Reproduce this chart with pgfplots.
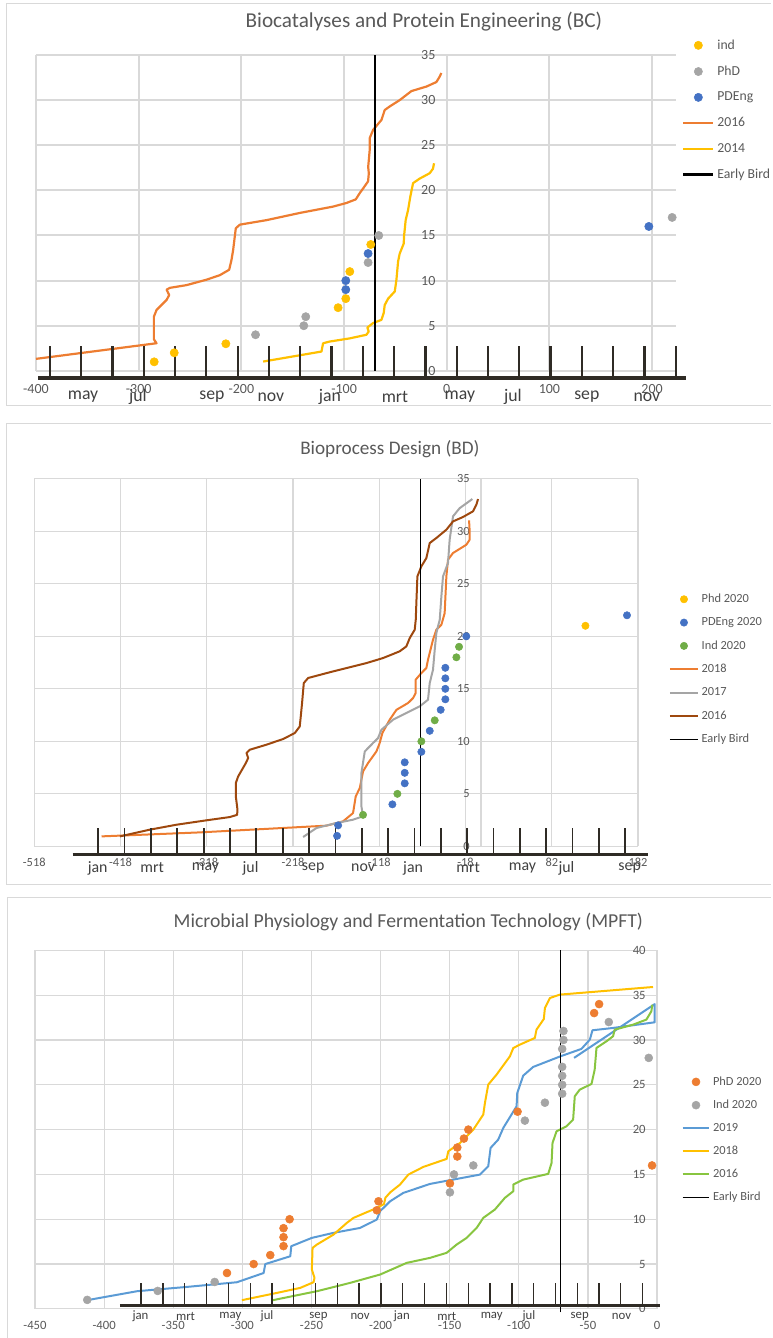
\documentclass[border=0pt]{standalone}
\usepackage{pgfplots}
\pgfplotsset{compat=1.18}
\usepackage{fontspec}
\setmainfont{Carlito}
\definecolor{gridc}{HTML}{D9D9D9}
\definecolor{labc}{HTML}{595959}
\definecolor{monc}{HTML}{404040}
\definecolor{rulc}{HTML}{2F2B25}
\definecolor{cor}{HTML}{ED7D31}
\definecolor{cye}{HTML}{FFC000}
\definecolor{cgr}{HTML}{A5A5A5}
\definecolor{cbl}{HTML}{4472C4}
\definecolor{clb}{HTML}{5B9BD5}
\definecolor{cgn}{HTML}{70AD47}
\definecolor{cbr}{HTML}{9E480E}
\definecolor{clg}{HTML}{88C540}
\pgfplotsset{
  common/.style={
    scale only axis, anchor=south west, clip=false,
    axis lines=center,
    every inner x axis line/.append style={-},
    every inner y axis line/.append style={-},
    axis line style={-},
    grid=major, major tick length=0pt,
    hide obscured x ticks=false, hide obscured y ticks=false,
    /pgf/number format/assume math mode=true,
    tick label style={text=labc},
    legend cell align=left,
  },
  dot/.style={only marks, mark=*, color=#1, mark options={fill=#1, draw=#1}},
}
\begin{document}
\begin{tikzpicture}
\path (0,0) rectangle (578.25pt,-1003.5pt);
% frames
\draw[gridc, line width=0.75pt] (578.25pt,-3pt) -- (5.25pt,-3pt) -- (5.25pt,-304.5pt) -- (578.25pt,-304.5pt);
\draw[gridc, line width=0.75pt] (578.25pt,-318pt) -- (5.25pt,-318pt) -- (5.25pt,-663.75pt) -- (578.25pt,-663.75pt);
\draw[gridc, line width=0.75pt] (578.25pt,-673.5pt) -- (6pt,-673.5pt) -- (6pt,-1003.5pt);
% titles
\node[font=\fontsize{15.9}{19}\selectfont, text=labc] at (318pt,-16.5pt) {Biocatalyses and Protein Engineering (BC)};
\node[font=\fontsize{14.4}{17}\selectfont, text=labc] at (292.5pt,-336.75pt) {Bioprocess Design (BD)};
\node[font=\fontsize{14.8}{18}\selectfont, text=labc] at (306.4pt,-691.5pt) {Microbial Physiology and Fermentation Technology (MPFT)};

%================ PANEL 1 ================
\begin{axis}[common,
  at={(27pt,-278.25pt)}, width=480pt, height=237pt,
  xmin=-400, xmax=223, ymin=0, ymax=35,
  xtick={-400,-300,...,200}, ytick={0,5,...,35},
  grid style={draw=gridc, line width=1.5pt},
  axis line style={draw=gridc, line width=1.5pt},
  tick label style={font=\fontsize{10.5}{12}\selectfont},
  xticklabel style={yshift=-7pt}, yticklabel style={xshift=-5pt},
  legend image code/.code={\draw[mark repeat=2,mark phase=2,#1] plot coordinates {(0pt,0pt) (11.25pt,0pt) (22.5pt,0pt)};},
  legend style={draw=none, fill=none, at={(1.0094,1.058)}, anchor=north west,
    font=\fontsize{10.3}{12}\selectfont, text=labc, inner sep=0pt, row sep=7pt},
]
\addplot[dot=cye, mark size=3.1pt] coordinates {(-284.9,1) (-265.4,2) (-215.1,3) (-105.8,7) (-98.3,8) (-94.4,11) (-74,14)};
\addlegendentry{ind}
\addplot[dot=cgr, mark size=3.1pt] coordinates {(-186.2,4) (-139.2,5) (-137.3,6) (-76.6,12) (-66.2,15) (219.5,17)};
\addlegendentry{PhD}
\addplot[dot=cbl, mark size=3.1pt] coordinates {(-98.3,9) (-98.3,10) (-76.6,13) (196.8,16)};
\addlegendentry{PDEng}
\addplot[cor, line width=1.65pt, line join=round, no marks] coordinates {
(-400,1.33) (-282.6,3.06) (-285.2,3.5) (-285.2,6.0) (-282.6,6.75) (-272.8,7.86) (-270.3,8.4) (-272.8,9.0) (-269.5,9.2) (-253.4,9.5) (-234,10.1) (-221,10.6) (-211.9,11.2) (-209.6,12.3) (-208,13.4) (-206.4,14.9) (-205.4,15.8) (-201.5,16.2) (-175.5,16.7) (-143,17.5) (-110.7,18.2) (-97.7,18.6) (-88.6,19.0) (-84.7,19.7) (-81.5,20.2) (-76.6,21.0) (-75.9,21.9) (-76.5,22.6) (-75,24.5) (-75,25.8) (-71.7,26.7) (-63.6,27.8) (-60.4,28.9) (-55.5,29.3) (-45.8,30.0) (-34.4,31.0) (-19.8,31.5) (-10.1,32.0) (-6.9,32.6) (-5.3,33.0)};
\addlegendentry{2016}
\addplot[cye, line width=1.65pt, line join=round, no marks] coordinates {
(-178.8,1.03) (-149.6,1.6) (-122,2.14) (-120.4,3.06) (-113.9,3.25) (-94.4,3.6) (-78.2,4.0) (-76,4.36) (-77.3,4.8) (-71.7,5.3) (-63.6,5.65) (-61.4,6.4) (-60.4,7.3) (-57.1,8.0) (-50.6,8.8) (-49,10.1) (-47.4,12.1) (-45.8,13.0) (-41.9,14.1) (-41.6,14.9) (-40,16.7) (-37.7,17.8) (-35.5,19.3) (-32.8,20.8) (-26.4,21.3) (-16.6,21.9) (-13.4,22.4) (-12.4,23.0)};
\addlegendentry{2014}
\addplot[black, line width=2pt, no marks] coordinates {(-70,0) (-70,35)};
\addlegendentry{Early Bird}
% month ruler
\draw[rulc, line width=3pt] (axis cs:-398,-0.78) -- (axis cs:232.8,-0.78);
\pgfplotsinvokeforeach{-386.4,-355.9,-325.5,-295.0,-264.5,-234.1,-203.6,-173.1,-142.6,-112.2,-81.7,-51.2,-20.8,9.7,40.2,70.7,101.1,131.6,162.1,192.5,223.0}{
  \draw[rulc, line width=1.7pt] (axis cs:#1,-0.78) -- (axis cs:#1,2.77);}
\begin{scope}[every node/.style={font=\fontsize{13.3}{15}\selectfont, text=monc}]
\node at (axis cs:-354.2,-2.9) {may};
\node at (axis cs:-300.7,-2.9) {jul};
\node at (axis cs:-228.7,-2.9) {sep};
\node at (axis cs:-171.2,-2.9) {nov};
\node at (axis cs:-113.8,-2.9) {jan};
\node at (axis cs:-50.5,-2.9) {mrt};
\node at (axis cs:12.8,-2.9) {may};
\node at (axis cs:64.4,-2.9) {jul};
\node at (axis cs:136.4,-2.9) {sep};
\node at (axis cs:194.8,-2.9) {nov};
\end{scope}
\end{axis}

%================ PANEL 2 ================
\begin{axis}[common,
  at={(25.7pt,-635pt)}, width=453pt, height=275.8pt,
  xmin=-518, xmax=182, ymin=0, ymax=35,
  xtick={-518,-418,...,182}, ytick={0,5,...,35},
  grid style={draw=gridc, line width=0.9pt},
  axis line style={draw=gridc, line width=0.9pt},
  tick label style={font=\fontsize{9.3}{11}\selectfont},
  xticklabel style={yshift=-5.5pt}, yticklabel style={xshift=-5pt},
  legend image code/.code={\draw[mark repeat=2,mark phase=2,#1] plot coordinates {(0pt,0pt) (10.5pt,0pt) (21pt,0pt)};},
  legend style={draw=none, fill=none, at={(1.0508,0.6946)}, anchor=north west,
    font=\fontsize{9.3}{11}\selectfont, text=labc, inner sep=0pt, row sep=5.75pt},
]
\addplot[dot=cye, mark size=2.75pt] coordinates {(121,21)};
\addlegendentry{Phd 2020}
\addplot[dot=cbl, mark size=2.75pt] coordinates {(-166.9,1) (-165.7,2) (-102.8,4) (-88.5,6) (-88.5,7) (-88.5,8) (-69.2,9) (-59.5,11) (-46.8,13) (-41.4,14) (-41.4,15) (-41.4,16) (-41.4,17) (-17.1,20) (169.2,22)};
\addlegendentry{PDEng 2020}
\addplot[dot=cgn, mark size=2.75pt] coordinates {(-136.8,3) (-97,5) (-69.2,10) (-53.7,12) (-28.6,18) (-25.5,19)};
\addlegendentry{Ind 2020}
\addplot[cor, line width=1.5pt, line join=round, no marks] coordinates {
(-440,0.95) (-326,1.33) (-229.5,1.75) (-179.3,1.97) (-160,2.38) (-148.4,3.17) (-145.3,4.76) (-140.6,5.55) (-136.8,7.14) (-131,7.93) (-121.3,9.04) (-117.5,9.84) (-114.4,10.79) (-105.9,12.06) (-98.1,13.0) (-84.6,13.65) (-78.8,14.12) (-75.8,14.6) (-75.8,15.87) (-69.2,16.5) (-63.4,16.98) (-61.5,17.77) (-55.7,19.68) (-51.8,20.63) (-46,21.1) (-42.2,22.2) (-40.2,25.7) (-38.3,27.3) (-32.5,27.93) (-17,28.72) (-13.2,29.2) (-13.2,30) (-13.9,31.04)};
\addlegendentry{2018}
\addplot[cgr, line width=1.5pt, line join=round, no marks] coordinates {
(-206.3,0.89) (-190.8,1.75) (-167.7,2.22) (-148.4,2.54) (-136.8,2.86) (-138.7,3.81) (-138.7,6.98) (-134.8,9.04) (-125.2,9.84) (-119.5,10.3) (-115.5,11.1) (-102,12.06) (-71.1,13.33) (-61.5,13.96) (-59.5,15.55) (-55.7,16.82) (-53.7,18.72) (-51.8,20.31) (-47.9,21.58) (-46,23.8) (-44.1,25.7) (-38.3,26.98) (-36.4,29.2) (-32.5,31.42) (-24.8,32.2) (-10.1,33.07)};
\addlegendentry{2017}
\addplot[cbr, line width=1.5pt, line join=round, no marks] coordinates {
(-418.7,0.95) (-384,1.59) (-353.1,2.06) (-318.3,2.48) (-291.3,2.79) (-282.8,3.0) (-282.4,3.5) (-284.3,4.76) (-284.3,6.03) (-281.6,6.66) (-272.7,7.93) (-270,8.41) (-271.9,8.89) (-268.1,9.2) (-248.8,9.68) (-229.5,10.22) (-215.9,10.79) (-210.2,11.42) (-209,12.38) (-207.5,13.65) (-205.5,15.55) (-200.5,16.03) (-171.5,16.66) (-132.9,17.45) (-113.6,17.93) (-94.3,18.57) (-86.6,19.04) (-82.7,19.83) (-76.9,20.63) (-75.7,21.58) (-75,23.17) (-73.8,25.7) (-69.2,26.66) (-63.4,27.45) (-59.5,28.88) (-51.8,29.36) (-40.2,30.15) (-32.5,30.94) (-20.9,31.36) (-9.3,31.9) (-5.4,32.53) (-3.5,33.07)};
\addlegendentry{2016}
\addplot[black, line width=0.75pt, no marks] coordinates {(-70,0) (-70,35)};
\addlegendentry{Early Bird}
\draw[rulc, line width=2.6pt] (axis cs:-473.5,-0.79) -- (axis cs:193.2,-0.79);
\pgfplotsinvokeforeach{-443.8,-413.3,-382.7,-352.2,-321.6,-291.1,-260.6,-230.0,-199.5,-168.9,-138.4,-107.9,-77.3,-46.8,-16.2,14.3,44.8,75.4,105.9,136.5,167.0}{
  \draw[rulc, line width=1.3pt] (axis cs:#1,-0.79) -- (axis cs:#1,1.78);}
\begin{scope}[every node/.style={font=\fontsize{11.9}{14}\selectfont, text=monc}]
\node at (axis cs:-444.5,-2.06) {jan};
\node at (axis cs:-381.3,-2.06) {mrt};
\node at (axis cs:-319.4,-2.06) {may};
\node at (axis cs:-267.2,-2.06) {jul};
\node at (axis cs:-194.7,-2.06) {sep};
\node at (axis cs:-136.7,-2.06) {nov};
\node at (axis cs:-78.8,-2.06) {jan};
\node at (axis cs:-15.0,-2.06) {mrt};
\node at (axis cs:48.0,-2.06) {may};
\node at (axis cs:99.0,-2.06) {jul};
\node at (axis cs:172.3,-2.06) {sep};
\end{scope}
\end{axis}

%================ PANEL 3 ================
\begin{axis}[common,
  at={(26.25pt,-982pt)}, width=466.7pt, height=269pt,
  xmin=-450, xmax=0, ymin=0, ymax=40,
  xtick={-450,-400,...,0}, ytick={0,5,...,40},
  grid style={draw=gridc, line width=0.9pt},
  axis line style={draw=gridc, line width=0.9pt},
  tick label style={font=\fontsize{9.5}{11}\selectfont},
  xticklabel style={yshift=-6pt}, yticklabel style={xshift=-5pt},
  legend image code/.code={\draw[mark repeat=2,mark phase=2,#1] plot coordinates {(0pt,0pt) (10pt,0pt) (20pt,0pt)};},
  legend style={draw=none, fill=none, at={(1.0392,0.656)}, anchor=north west,
    font=\fontsize{9.3}{11}\selectfont, text=labc, inner sep=0pt, row sep=5.5pt},
]
\addplot[dot=cor, mark size=3pt] coordinates {(-311.1,4) (-291.8,5) (-279.8,6) (-270.2,7) (-270.2,8) (-270.2,9) (-265.8,10) (-202.7,11) (-201.5,12) (-149.8,14) (-144.5,17) (-144.5,18) (-139.7,19) (-136.5,20) (-100.9,22) (-45.5,33) (-41.9,34) (-3.6,16)};
\addlegendentry{PhD 2020}
\addplot[dot=cgr, mark size=3pt] coordinates {(-412.2,1) (-361.2,2) (-320,3) (-149.8,13) (-146.9,15) (-132.9,16) (-95.6,21) (-81.1,23) (-68.6,24) (-68.6,25) (-68.6,26) (-68.6,27) (-68.6,29) (-67.7,30) (-67.7,31) (-34.9,32) (-6.0,28)};
\addlegendentry{Ind 2020}
\addplot[clb, line width=1.5pt, line join=round, no marks] coordinates {
(-412.2,0.97) (-376.1,1.97) (-340,2.45) (-303.9,2.97) (-284.6,4.0) (-283.4,5.0) (-265.3,5.87) (-264.6,6.99) (-249.7,7.92) (-234,8.48) (-214.8,9.03) (-202.7,9.96) (-200.3,10.9) (-193.1,12.0) (-183.5,12.94) (-164.2,13.94) (-128.1,14.98) (-122.1,15.91) (-120.4,17.96) (-114.9,18.88) (-111.2,20.19) (-101.6,22.6) (-101.1,24.09) (-96.8,26.02) (-89.6,26.99) (-69.8,28.18) (-54.7,29.0) (-48.6,30.04) (-46.7,31.08) (-31.8,31.34) (-1.7,31.97) (-1.7,34.0) (-60,28.0)};
\addlegendentry{2019}
\addplot[cye, line width=1.5pt, line join=round, no marks] coordinates {
(-300.3,0.97) (-275,1.78) (-258.1,2.34) (-248.5,2.97) (-247.8,3.46) (-249.7,4.39) (-249.2,6.8) (-246.1,7.17) (-234,8.29) (-224.4,9.59) (-219.6,10.15) (-202.7,11.26) (-197.5,11.7) (-196.5,12.4) (-193,13.0) (-185.9,13.87) (-179.9,14.98) (-169,15.84) (-152.2,16.73) (-151,17.58) (-142.5,18.51) (-132.9,20.0) (-125.7,21.67) (-124.5,22.97) (-122.1,25.02) (-116.1,26.13) (-106.4,28.18) (-104,29.1) (-99.2,29.48) (-88.4,30.22) (-87.2,31.15) (-81.9,32.34) (-81.1,33.57) (-77.5,34.68) (-70.3,35.06) (-2.9,35.91)};
\addlegendentry{2018}
\addplot[clg, line width=1.5pt, line join=round, no marks] coordinates {
(-277.9,0.97) (-246.1,1.97) (-222,2.9) (-200.3,3.83) (-181.1,5.13) (-164.2,5.69) (-152.2,6.25) (-145,7.17) (-137.7,7.92) (-130.5,9.03) (-125.7,10.15) (-117.3,11.08) (-110.1,12.38) (-104,13.12) (-104,13.87) (-96.8,14.42) (-78.7,15.06) (-76.3,16.28) (-75.6,18.51) (-72.7,19.81) (-65.5,20.37) (-60.7,21.12) (-59.5,23.72) (-55.9,24.46) (-47.4,25.09) (-45.1,26.69) (-43.8,29.11) (-36.6,29.85) (-31.8,30.41) (-30.6,31.15) (-17.3,31.71) (-7.7,32.27) (-4.1,33.2) (-3.4,33.94)};
\addlegendentry{2016}
\addplot[black, line width=1pt, no marks] coordinates {(-70,-0.4) (-70,40)};
\addlegendentry{Early Bird}
\draw[rulc, line width=2.2pt] (axis cs:-388.6,0.4) -- (axis cs:1.9,0.4);
\pgfplotsinvokeforeach{-373.2,-357.4,-341.6,-325.9,-310.1,-294.3,-278.6,-262.8,-247.0,-231.2,-215.5,-199.7,-183.9,-168.1,-152.3,-136.6,-120.8,-105.0,-89.2,-73.5,-57.7,-41.9,-26.2,-10.4}{
  \draw[rulc, line width=1pt] (axis cs:#1,0.4) -- (axis cs:#1,2.9);}
\begin{scope}[every node/.style={font=\fontsize{9.6}{11}\selectfont, text=monc}]
\node at (axis cs:-373.7,-0.83) {jan};
\node at (axis cs:-341.1,-0.83) {mrt};
\node at (axis cs:-308.6,-0.83) {may};
\node at (axis cs:-282.1,-0.83) {jul};
\node at (axis cs:-244.9,-0.83) {sep};
\node at (axis cs:-214.8,-0.83) {nov};
\node at (axis cs:-184.6,-0.83) {jan};
\node at (axis cs:-152.1,-0.83) {mrt};
\node at (axis cs:-119.6,-0.83) {may};
\node at (axis cs:-92.7,-0.83) {jul};
\node at (axis cs:-55.9,-0.83) {sep};
\node at (axis cs:-25.7,-0.83) {nov};
\end{scope}
\end{axis}
\end{tikzpicture}
\end{document}
